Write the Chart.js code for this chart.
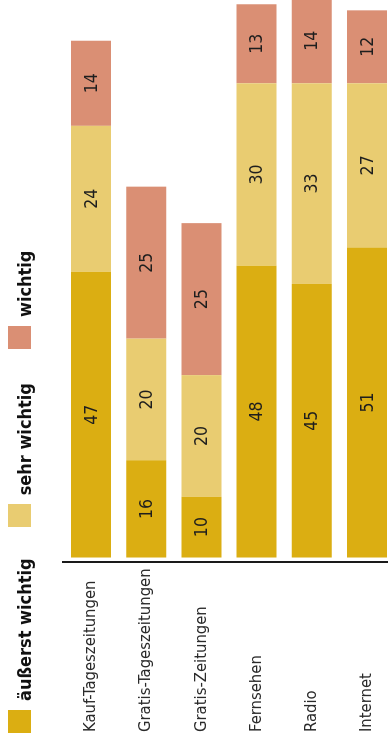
<!DOCTYPE html>
<html>
<head>
<meta charset="utf-8">
<script src="https://cdn.jsdelivr.net/npm/chart.js@4.4.1/dist/chart.umd.min.js"></script>
<style>
  html, body { margin: 0; padding: 0; width: 388px; height: 745px; overflow: hidden; background: #fff; }
  /* the chart is laid out lying on its side and turned a quarter turn */
  #wrap { position: absolute; left: 0; top: 745px; width: 745px; height: 400px;
          transform-origin: 0 0; transform: rotate(-90deg); }
  #wrap canvas { position: absolute; left: 0; top: 0; }
  #legend { position: absolute; left: 12px; top: 8px; display: flex; align-items: baseline;
            font-family: "Liberation Sans Narrow", "DejaVu Sans Condensed", sans-serif;
            font-weight: bold; font-size: 18px; color: #111; line-height: 24px; }
  #legend .item { display: flex; align-items: baseline; margin-right: 34px; }
  #legend .item:first-child { margin-right: 31px; }
  #legend .box { display: inline-block; width: 23px; height: 23px; margin-right: 9px; }
</style>
</head>
<body>
<div id="wrap">
  <canvas id="chart" width="745" height="400"></canvas>
  <div id="legend"></div>
</div>
<script>
const FONT = '"Liberation Sans Narrow", "DejaVu Sans Condensed", sans-serif';

const categories = ['Kauf-Tageszeitungen', 'Gratis-Tageszeitungen', 'Gratis-Zeitungen', 'Fernsehen', 'Radio', 'Internet'];
const seriesNames = ['äußerst wichtig', 'sehr wichtig', 'wichtig'];
const aeusserstWichtig = [47, 16, 10, 48, 45, 51];
const sehrWichtig = [24, 20, 20, 30, 33, 27];
const wichtig = [14, 25, 25, 13, 14, 12];
const colors = ['#dbae12', '#e9cc71', '#da8f74'];

// html legend
const legendEl = document.getElementById('legend');
seriesNames.forEach(function(name, i) {
    const item = document.createElement('div');
    item.className = 'item';
    const box = document.createElement('span');
    box.className = 'box';
    box.style.background = colors[i];
    item.appendChild(box);
    item.appendChild(document.createTextNode(name));
    legendEl.appendChild(item);
});

// numbers in the middle of each segment
const valueLabels = {
    id: 'valueLabels',
    afterDatasetsDraw: function(chart) {
        const ctx = chart.ctx;
        ctx.save();
        ctx.font = '17.5px ' + FONT;
        ctx.fillStyle = '#1e1e1e';
        ctx.textAlign = 'center';
        ctx.textBaseline = 'middle';
        chart.data.datasets.forEach(function(ds, i) {
            chart.getDatasetMeta(i).data.forEach(function(bar, j) {
                const p = bar.getCenterPoint();
                ctx.fillText(String(ds.data[j]), p.x, p.y + 1);
            });
        });
        ctx.restore();
    }
};

const seriesData = [aeusserstWichtig, sehrWichtig, wichtig];

new Chart(document.getElementById('chart'), {
    type: 'bar',
    data: {
        labels: categories,
        datasets: seriesNames.map(function(name, i) {
            return {
                label: name,
                data: seriesData[i],
                backgroundColor: colors[i],
                borderWidth: 0,
                barPercentage: 0.725,
                categoryPercentage: 1
            };
        })
    },
    options: {
        indexAxis: 'y',
        responsive: false,
        animation: false,
        layout: { padding: { top: 63.4, bottom: 5.4, left: 13, right: 0 } },
        scales: {
            x: {
                stacked: true,
                display: false,
                min: -0.82,
                max: 91.7
            },
            y: {
                stacked: true,
                grid: { display: false, drawTicks: false },
                border: { display: true, color: '#1a1a1a', width: 2 },
                ticks: {
                    crossAlign: 'far',
                    color: '#2a2a2a',
                    font: { family: FONT, size: 16.5 }
                },
                afterFit: function(scale) {
                    scale.width = 169.5;
                    scale.paddingTop = 0;
                    scale.paddingBottom = 0;
                }
            }
        },
        plugins: {
            legend: { display: false },
            tooltip: { enabled: false }
        }
    },
    plugins: [valueLabels]
});
</script>
</body>
</html>
